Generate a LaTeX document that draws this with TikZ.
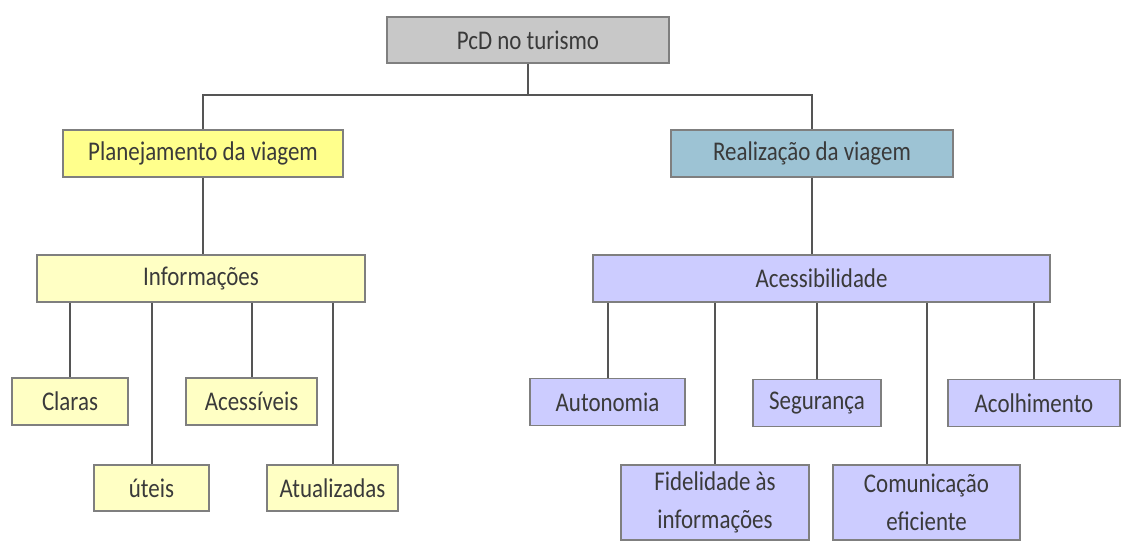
\documentclass[tikz,border=0pt]{standalone}
\usepackage{fontspec}
\setmainfont{Carlito}[FakeStretch=0.85]
\definecolor{boxline}{HTML}{7F7F7F}
\definecolor{linkgray}{HTML}{555555}
\definecolor{txtgray}{HTML}{3A3A3A}
\definecolor{topgray}{HTML}{C8C8C8}
\definecolor{planyellow}{HTML}{FFFF8C}
\definecolor{infoyellow}{HTML}{FFFFC4}
\definecolor{realblue}{HTML}{9DC3D4}
\definecolor{acesslilac}{HTML}{CCCCFF}
\begin{document}
\begin{tikzpicture}[x=1pt, y=-1pt]
    \tikzstyle{every node}=[align = center]
    \tikzstyle{box} = [draw=boxline, line width=1.5pt, inner sep=0pt, text=txtgray,
        font=\fontsize{27}{38}\selectfont]
    \tikzstyle{link} = [draw=linkgray, line width=2pt]
    \useasboundingbox (0,0) rectangle (1123,542);
    \node[box, fill=topgray, minimum width=282pt, minimum height=46pt] (top) at (528,40) {PcD no turismo};
    \node[box, fill=planyellow, minimum width=280pt, minimum height=47pt] (plan) at (203,153.5) {Planejamento da viagem};
    \node[box, fill=realblue, minimum width=282pt, minimum height=47pt] (real) at (812,153.5) {Realização da viagem};
    \node[box, fill=infoyellow, minimum width=328pt, minimum height=47pt] (info) at (201,278.5) {Informações};
    \node[box, fill=acesslilac, minimum width=457pt, minimum height=47pt] (acess) at (821.5,278.5) {Acessibilidade};
    \node[box, fill=infoyellow, minimum width=116pt, minimum height=47pt] (claras) at (70,401.5) {Claras};
    \node[box, fill=infoyellow, minimum width=131pt, minimum height=47pt] (acessiveis) at (251.5,401.5) {Acessíveis};
    \node[box, fill=infoyellow, minimum width=115pt, minimum height=46pt] (uteis) at (151.5,488) {úteis};
    \node[box, fill=infoyellow, minimum width=131pt, minimum height=46pt] (atual) at (332.5,488) {Atualizadas};
    \node[box, fill=acesslilac, minimum width=155pt, minimum height=47pt] (autonomia) at (607.5,402) {Autonomia};
    \node[box, fill=acesslilac, minimum width=128pt, minimum height=47pt] (seguranca) at (817,403) {Segurança};
    \node[box, fill=acesslilac, minimum width=172pt, minimum height=47pt] (acolhimento) at (1034,403) {Acolhimento};
    \node[box, fill=acesslilac, minimum width=188pt, minimum height=75pt] (fidelidade) at (715,502.5) {Fidelidade às\\informações};
    \node[box, fill=acesslilac, minimum width=187pt, minimum height=75pt] (comunicacao) at (926.5,502.5) {Comunicação\\eficiente};
    \coordinate (bar) at (528,95);
    \draw[link] (top.south) -- (bar);
    \draw[link] (plan.north) |- (bar) -| (real.north);
    \draw[link] (plan.south) -- (plan.south |- info.north);
    \draw[link] (real.south) -- (real.south |- acess.north);
    \foreach \kid in {claras, uteis, acessiveis, atual}
        \draw[link] (info.south -| \kid.north) -- (\kid.north);
    \foreach \kid in {autonomia, fidelidade, seguranca, comunicacao, acolhimento}
        \draw[link] (acess.south -| \kid.north) -- (\kid.north);
\end{tikzpicture}
\end{document}
